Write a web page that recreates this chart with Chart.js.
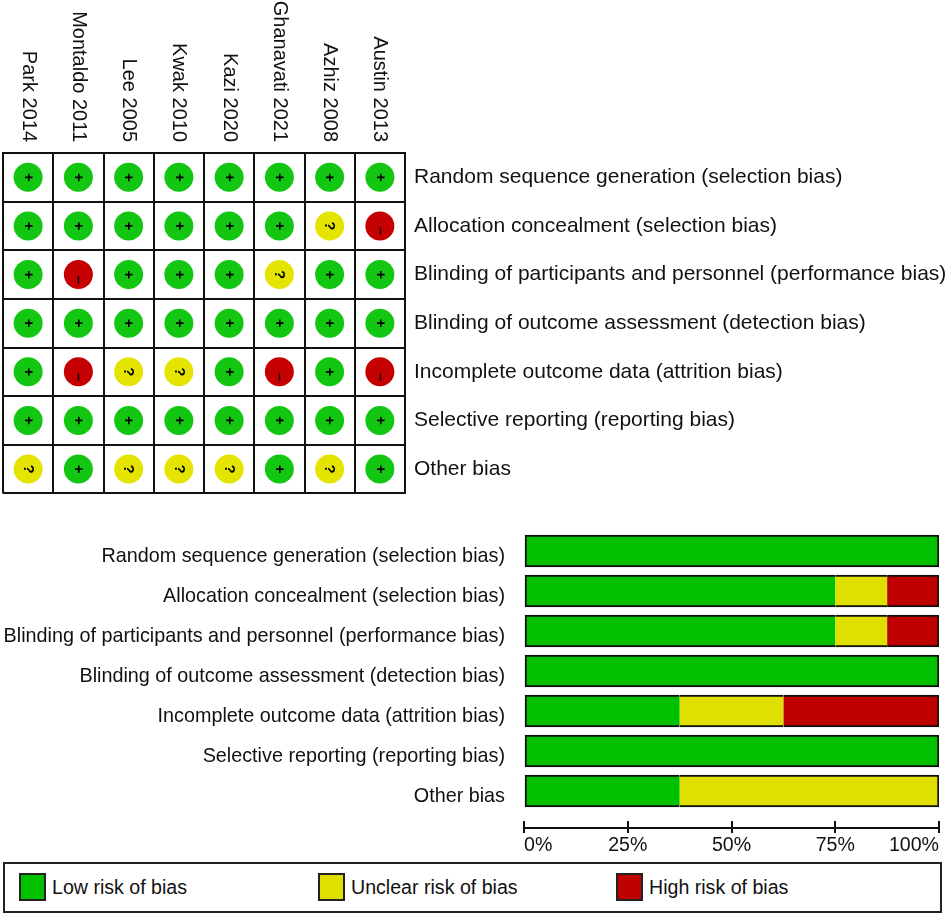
<!DOCTYPE html>
<html>
<head>
<meta charset="utf-8">
<script src="https://cdn.jsdelivr.net/npm/chart.js@4.4.0/dist/chart.umd.min.js"></script>
<style>
  html, body { margin: 0; padding: 0; background: #fff; }
  body { width: 945px; height: 916px; position: relative; overflow: hidden;
         font-family: "Liberation Sans", Arial, sans-serif; color: #111; }
  #grid { position: absolute; left: 0; top: 0; }
  #bars { position: absolute; left: 0; top: 515px; }
  .legend { position: absolute; left: 3px; top: 862px; width: 935px; height: 47px;
            border: 2px solid #222; }
  .item { position: absolute; top: 9px; height: 28px; display: flex; align-items: center;
          font-size: 19.6px; white-space: nowrap; }
  .sw { width: 23px; height: 24px; border: 2px solid #222; margin-right: 6px; }
</style>
</head>
<body>
<canvas id="grid" width="945" height="515"></canvas>
<canvas id="bars" width="945" height="345"></canvas>
<div class="legend">
  <div class="item" style="left:14px"><div class="sw" style="background:#00c000"></div>Low risk of bias</div>
  <div class="item" style="left:313px"><div class="sw" style="background:#e0e000"></div>Unclear risk of bias</div>
  <div class="item" style="left:611px"><div class="sw" style="background:#c00000"></div>High risk of bias</div>
</div>
<script>
const FONT = '"Liberation Sans", Arial, sans-serif';

const studies = ['Park 2014', 'Montaldo 2011', 'Lee 2005', 'Kwak 2010', 'Kazi 2020',
                 'Ghanavati 2021', 'Azhiz 2008', 'Austin 2013'];
const domains = [
  'Random sequence generation (selection bias)',
  'Allocation concealment (selection bias)',
  'Blinding of participants and personnel (performance bias)',
  'Blinding of outcome assessment (detection bias)',
  'Incomplete outcome data (attrition bias)',
  'Selective reporting (reporting bias)',
  'Other bias'
];

// judgement per study, same order as studies
const randomSeq  = ['+', '+', '+', '+', '+', '+', '+', '+'];
const allocation = ['+', '+', '+', '+', '+', '+', '?', '-'];
const blindPart  = ['+', '-', '+', '+', '+', '?', '+', '+'];
const blindOut   = ['+', '+', '+', '+', '+', '+', '+', '+'];
const incomplete = ['+', '-', '?', '?', '+', '-', '+', '-'];
const selective  = ['+', '+', '+', '+', '+', '+', '+', '+'];
const otherBias  = ['?', '+', '?', '?', '?', '+', '?', '+'];

// summary bars, % of studies
const lowPct     = [100, 75, 75, 100, 37.5, 100, 37.5];
const unclearPct = [0, 12.5, 12.5, 0, 25, 0, 62.5];
const highPct    = [0, 12.5, 12.5, 0, 37.5, 0, 0];

const xTicks = [0, 25, 50, 75, 100];

const rows = [randomSeq, allocation, blindPart, blindOut, incomplete, selective, otherBias];
const dotColor = { '+': '#12c612', '?': '#e4e400', '-': '#c60000' };
const glyph = { '+': '+', '?': '?', '-': '\u2013' };

const gridSets = ['+', '?', '-'].map(sym => ({
  label: sym,
  data: rows.flatMap((row, r) =>
    row.map((j, c) => (j === sym ? { x: studies[c], y: domains[r] } : null)).filter(Boolean)),
  backgroundColor: dotColor[sym],
  borderWidth: 0,
  pointRadius: 14.5,
  pointHoverRadius: 14.5
}));

// rotated study names above the grid
const studyLabels = {
  id: 'studyLabels',
  afterDraw(chart) {
    const ctx = chart.ctx, xs = chart.scales.x;
    ctx.save();
    ctx.font = '20px ' + FONT;
    ctx.fillStyle = '#111';
    ctx.textAlign = 'right';
    ctx.textBaseline = 'middle';
    studies.forEach((name, i) => {
      ctx.save();
      ctx.translate(xs.getPixelForValue(i), 142);
      ctx.rotate(Math.PI / 2);
      ctx.fillText(name, 0, 0);
      ctx.restore();
    });
    ctx.restore();
  }
};

// + ? - inside the dots (turned like in the original)
const marks = {
  id: 'marks',
  afterDatasetsDraw(chart) {
    const ctx = chart.ctx;
    ctx.save();
    ctx.fillStyle = '#000';
    ctx.font = 'bold 15px ' + FONT;
    ctx.textAlign = 'center';
    ctx.textBaseline = 'middle';
    chart.data.datasets.forEach((ds, i) => {
      chart.getDatasetMeta(i).data.forEach(pt => {
        ctx.save();
        ctx.translate(pt.x, pt.y + (ds.label === '-' ? 5 : 0));
        ctx.rotate(Math.PI / 2);
        ctx.fillText(glyph[ds.label], 0, 0);
        ctx.restore();
      });
    });
    ctx.restore();
  }
};

new Chart(document.getElementById('grid'), {
  type: 'scatter',
  data: { datasets: gridSets },
  options: {
    responsive: false,
    animation: false,
    events: [],
    layout: { autoPadding: false, padding: { left: 3, top: 153, right: 0, bottom: 10 } },
    plugins: { legend: { display: false }, tooltip: { enabled: false } },
    scales: {
      x: {
        type: 'category', labels: studies, position: 'top', offset: true,
        grid: { offset: true, color: '#111', lineWidth: 2, drawTicks: false },
        border: { color: '#111', width: 2 },
        ticks: { display: false },
        afterFit: s => { s.height = 0; }
      },
      y: {
        type: 'category', labels: domains, position: 'right', offset: true,
        grid: { offset: true, color: '#111', lineWidth: 2, drawTicks: false },
        border: { color: '#111', width: 2 },
        ticks: { padding: 9, color: '#111', font: { family: FONT, size: 21 } },
        afterFit: s => { s.width = 540; }
      }
    }
  },
  plugins: [studyLabels, marks]
});

const pctSets = [lowPct, unclearPct, highPct];
function edge(c) {
  const i = c.dataIndex, d = c.datasetIndex;
  if (i === undefined) return 2;
  const before = pctSets.slice(0, d).some(a => a[i] > 0);
  const after = pctSets.slice(d + 1).some(a => a[i] > 0);
  return { top: 2, bottom: 2, left: before ? 0 : 2, right: after ? 0 : 2 };
}

// tick marks cross the axis line
const tickUp = {
  id: 'tickUp',
  afterDraw(chart) {
    const ctx = chart.ctx, xs = chart.scales.x;
    ctx.save();
    ctx.strokeStyle = '#111';
    ctx.lineWidth = 2;
    xs.ticks.forEach(t => {
      const px = Math.round(xs.getPixelForValue(t.value));
      ctx.beginPath();
      ctx.moveTo(px, xs.top - 7);
      ctx.lineTo(px, xs.top);
      ctx.stroke();
    });
    ctx.restore();
  }
};

// index range of the bar rows (leaves a gap above the % axis)
const rowMin = -0.5, rowMax = 6.925;

new Chart(document.getElementById('bars'), {
  type: 'bar',
  data: {
    datasets: [
      { label: 'Low risk of bias', data: lowPct.map((v, i) => ({ x: v, y: i })), backgroundColor: '#00c000' },
      { label: 'Unclear risk of bias', data: unclearPct.map((v, i) => ({ x: v, y: i })), backgroundColor: '#e0e000' },
      { label: 'High risk of bias', data: highPct.map((v, i) => ({ x: v, y: i })), backgroundColor: '#c00000' }
    ]
  },
  options: {
    indexAxis: 'y',
    responsive: false,
    animation: false,
    events: [],
    layout: { autoPadding: false, padding: { left: 0, right: 6, top: 16, bottom: 2 } },
    datasets: { bar: { barThickness: 32, borderSkipped: false, borderColor: '#111', borderWidth: edge } },
    plugins: { legend: { display: false }, tooltip: { enabled: false } },
    scales: {
      x: {
        type: 'linear', stacked: true, min: 0, max: 100, position: 'bottom', offset: false,
        afterBuildTicks: s => { s.ticks = xTicks.map(v => ({ value: v })); },
        ticks: { callback: v => v + '%', align: 'inner', padding: 1, color: '#111',
                 font: { family: FONT, size: 19.6 } },
        grid: { drawOnChartArea: false, drawTicks: true, tickLength: 5, color: '#111', lineWidth: 2 },
        border: { color: '#111', width: 2 },
        afterFit: s => { s.height = 30; s.paddingLeft = 0; s.paddingRight = 0; }
      },
      y: {
        type: 'linear', stacked: true, reverse: true, min: rowMin, max: rowMax, offset: false,
        afterBuildTicks: s => { s.ticks = domains.map((_, i) => ({ value: i })); },
        ticks: { callback: v => domains[v], padding: 19, labelOffset: 6, color: '#111',
                 font: { family: FONT, size: 19.8 } },
        grid: { display: false, drawTicks: false, offset: false },
        border: { display: false },
        afterFit: s => { s.width = 524; s.paddingTop = 0; s.paddingBottom = 0; }
      }
    }
  },
  plugins: [tickUp]
});
</script>
</body>
</html>
